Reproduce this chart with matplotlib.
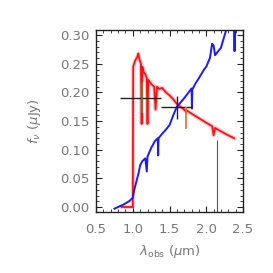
import matplotlib
matplotlib.use("Agg")
import matplotlib.pyplot as plt
from matplotlib.ticker import MultipleLocator

# red template spectrum (um, uJy); pairs of equal x are the absorption dips
red_wl = [0.85, 0.995, 1.0, 1.005, 1.03, 1.06, 1.075, 1.09, 1.11, 1.12, 1.13, 1.15,
          1.17, 1.19, 1.20, 1.21, 1.25, 1.29, 1.31, 1.33, 1.36, 1.40, 1.45, 1.50,
          1.55, 1.60, 1.65, 1.70, 1.725, 1.74, 1.80, 1.90, 2.00, 2.08, 2.10, 2.12,
          2.20, 2.30, 2.38]
red_fl = [0.0, 0.0, 0.0, 0.245, 0.255, 0.262, 0.268, 0.258, 0.250, 0.145, 0.245, 0.235,
          0.232, 0.225, 0.145, 0.222, 0.215, 0.210, 0.170, 0.210, 0.206, 0.208, 0.200, 0.195,
          0.188, 0.180, 0.175, 0.170, 0.166, 0.168, 0.163, 0.155, 0.147, 0.141, 0.125, 0.138,
          0.132, 0.125, 0.120]

# blue template spectrum
blue_wl = [0.75, 0.80, 0.87, 0.95, 1.00, 1.02, 1.05, 1.08, 1.10, 1.13, 1.17, 1.19,
           1.20, 1.25, 1.30, 1.34, 1.345, 1.35, 1.40, 1.45, 1.50, 1.55, 1.60, 1.70,
           1.80, 1.805, 1.81, 1.85, 1.90, 1.97, 2.00, 2.05, 2.08, 2.10, 2.12, 2.15,
           2.20, 2.25, 2.30, 2.35, 2.38, 2.385, 2.39, 2.45]
blue_fl = [-0.003, 0.0, 0.004, 0.010, 0.016, 0.030, 0.045, 0.060, 0.073, 0.080, 0.085, 0.062,
           0.088, 0.103, 0.115, 0.120, 0.090, 0.120, 0.128, 0.135, 0.143, 0.160, 0.175, 0.190,
           0.207, 0.172, 0.205, 0.215, 0.225, 0.240, 0.245, 0.260, 0.285, 0.282, 0.265, 0.270,
           0.278, 0.300, 0.320, 0.330, 0.330, 0.272, 0.330, 0.340]

# photometric points: centre, half band width, flux, flux error
phot_wl = [1.10, 1.60]
phot_hw = [0.28, 0.21]
phot_fl = [0.190, 0.174]
phot_err = [0.0, 0.020]

green_wl, green_fl, green_err = 1.12, 0.191, 0.027
orange_wl, orange_fl, orange_err = 1.73, 0.156, 0.019
limit_wl, limit_top = 2.14, 0.117

fig = plt.figure(figsize=(2.73, 2.73), dpi=100)
ax = fig.add_axes([0.352, 0.223, 0.538, 0.667])

ax.plot(red_wl, red_fl, color="#ff9aa8", lw=3.0, alpha=0.5, solid_joinstyle="round")
ax.plot(red_wl, red_fl, color="#ff1010", lw=1.3)
ax.plot(blue_wl, blue_fl, color="#1a1aff", lw=1.4)

ax.errorbar(phot_wl, phot_fl, xerr=phot_hw, yerr=phot_err, fmt="none",
            ecolor="#222222", elinewidth=1.0, capsize=0)
ax.errorbar([green_wl], [green_fl], yerr=[green_err], fmt="none",
            ecolor="#3a9a3a", elinewidth=1.2, capsize=0)
ax.errorbar([orange_wl], [orange_fl], yerr=[orange_err], fmt="none",
            ecolor="#e07020", elinewidth=1.2, capsize=0)
ax.vlines(limit_wl, -0.01, limit_top, color="#555555", lw=0.8)

ax.set_xlim(0.5, 2.5)
ax.set_ylim(-0.009, 0.309)
ax.xaxis.set_major_locator(MultipleLocator(0.5))
ax.xaxis.set_minor_locator(MultipleLocator(0.1))
ax.yaxis.set_major_locator(MultipleLocator(0.05))
ax.yaxis.set_minor_locator(MultipleLocator(0.01))
ax.tick_params(which="both", direction="in", top=True, right=True,
               colors="#222222", labelcolor="#777777", labelsize=9.5)
ax.tick_params(which="major", length=4, width=0.8)
ax.tick_params(axis="x", which="major", pad=8)
ax.tick_params(axis="y", which="major", pad=5)
ax.tick_params(which="minor", length=2, width=0.6)
ax.xaxis.set_major_formatter(matplotlib.ticker.FormatStrFormatter("%.1f"))
ax.yaxis.set_major_formatter(matplotlib.ticker.FormatStrFormatter("%.2f"))
for s in ax.spines.values():
    s.set_linewidth(1.0)
    s.set_color("#222222")

ax.set_xlabel(r"$\lambda_{\rm obs}$ ($\mu$m)", color="#777777", fontsize=9.5, labelpad=5)
ax.set_ylabel(r"$f_{\nu}$ ($\mu$Jy)", color="#777777", fontsize=9.5, labelpad=12)

fig.savefig("out.png", dpi=100)
